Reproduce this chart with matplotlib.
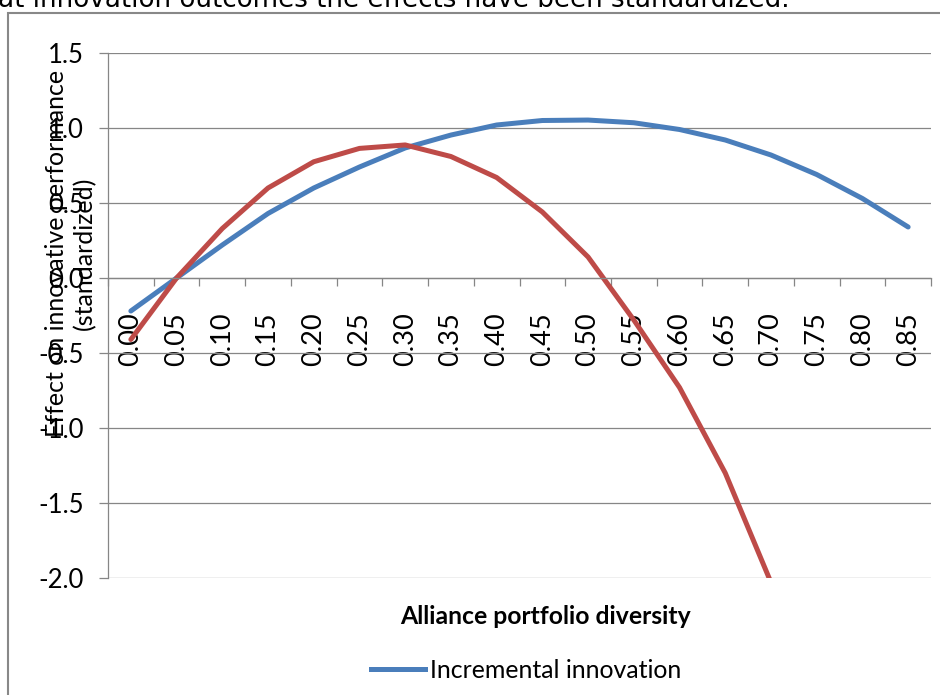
import matplotlib.pyplot as plt
from matplotlib.patches import Rectangle
from matplotlib.lines import Line2D
import numpy as np

plt.rcParams['font.family'] = ['Lato', 'DejaVu Sans']

categories = ["0.00", "0.05", "0.10", "0.15", "0.20", "0.25", "0.30", "0.35", "0.40",
              "0.45", "0.50", "0.55", "0.60", "0.65", "0.70", "0.75", "0.80", "0.85"]
incremental = [-0.22, 0.0, 0.22, 0.43, 0.60, 0.74, 0.867, 0.953, 1.02,
               1.05, 1.053, 1.035, 0.99, 0.92, 0.82, 0.69, 0.53, 0.34]
radical = [-0.41, 0.0, 0.33, 0.60, 0.775, 0.864, 0.887, 0.81, 0.67,
           0.44, 0.14, -0.28, -0.73, -1.30, -2.03]
yticks = [-2.0, -1.5, -1.0, -0.5, 0.0, 0.5, 1.0, 1.5]

W, H = 940, 695
fig = plt.figure(figsize=(W / 100, H / 100), dpi=100)
ax = fig.add_axes([108 / W, 1 - 578 / H, (931 - 108) / W, (578 - 53) / H])

gray = '#868686'
x = np.arange(len(categories))
ax.plot(x, incremental, color='#4A7EBB', lw=3.6, solid_capstyle='round')
ax.plot(x[:len(radical)], radical, color='#BE4B48', lw=3.6, solid_capstyle='round')

ax.set_xlim(-0.5, len(categories) - 0.5)
ax.set_ylim(-2.0, 1.5)
ax.set_yticks(yticks, labels=[f"{v:.1f}" for v in yticks])
ax.yaxis.grid(True, color=gray, lw=0.9)
ax.set_axisbelow(True)

ax.set_xticks(x, labels=categories)
ax.set_xticks(np.arange(-0.5, len(categories), 1), minor=True)
ax.tick_params(axis='x', which='major', length=0, pad=25, labelsize=19.5, labelrotation=90)
ax.tick_params(axis='x', which='minor', length=6, color=gray, width=0.9, direction='out')
ax.tick_params(axis='y', length=6.5, color=gray, width=0.9, pad=11, labelsize=18.5)

ax.spines['top'].set_visible(False)
ax.spines['right'].set_visible(False)
ax.spines['bottom'].set_position(('data', 0))
ax.spines['bottom'].set_color(gray)
ax.spines['left'].set_color(gray)
ax.spines['bottom'].set_linewidth(0.9)
ax.spines['left'].set_linewidth(0.9)

fig.text(71 / W, 1 - 253 / H, "Effect on innovative performance\n(standardized)",
         rotation=90, ha='center', va='center', multialignment='center',
         fontsize=18, linespacing=1.25)
fig.text(545 / W, 1 - 616 / H, "Alliance portfolio diversity", ha='center', va='center',
         fontsize=17.8, fontweight='bold')

handle = Line2D([], [], color='#4A7EBB', lw=3.6)
fig.legend(handles=[handle], labels=["Incremental innovation"], loc='center',
           bbox_to_anchor=(526 / W, 1 - 670 / H), frameon=False, fontsize=17.9,
           handlelength=2.2, handletextpad=0.2, borderpad=0)

fig.add_artist(Rectangle((8 / W, -0.1), 1.2, 1.1 - 13 / H, transform=fig.transFigure,
                         fill=False, edgecolor='#888888', lw=1.5))
fig.text(-2 / W, 1 - 7 / H, "at innovation outcomes the effects have been standardized.",
         ha='left', va='baseline', fontsize=18.8, family='DejaVu Sans')

fig.savefig('out.png', dpi=100)
